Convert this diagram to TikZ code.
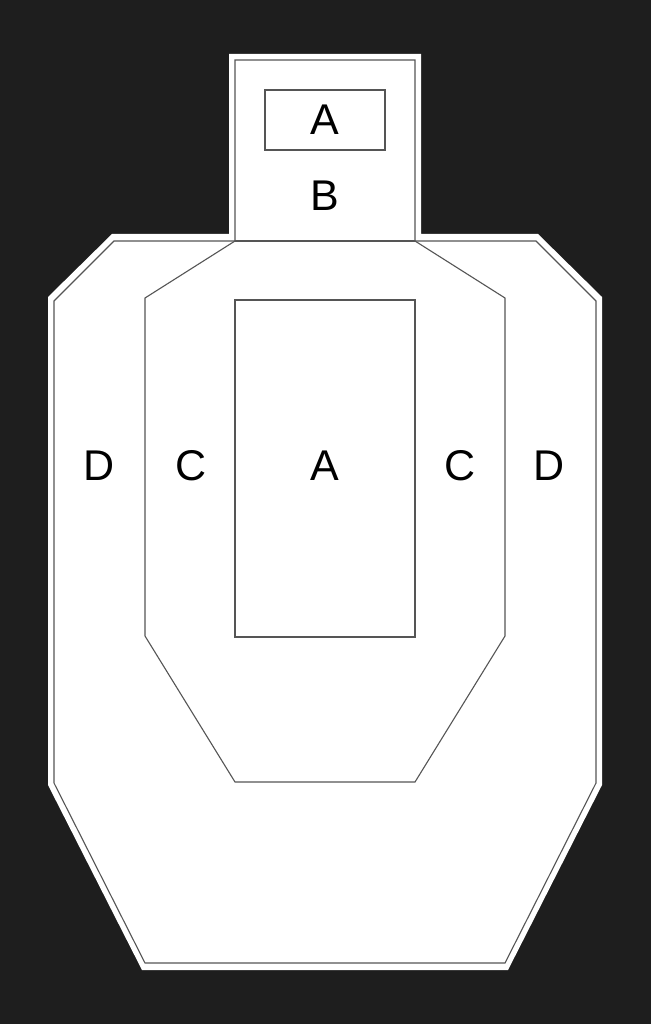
\documentclass[tikz,border=0pt]{standalone}
\usepackage{fontspec}
\setmainfont{Liberation Sans}
\definecolor{backdrop}{HTML}{1E1E1E}
\definecolor{zoneline}{HTML}{555555}

\begin{document}
\begin{tikzpicture}[x=1pt, y=-1pt,
  zone/.style={draw=zoneline, line width=1.1pt, line join=miter},
  zonelabel/.style={text=black, inner sep=0pt, font=\fontsize{43}{43}\selectfont}]

  \newcommand\HL{235}
  \newcommand\HR{415}
  \newcommand\NECK{241}

  % backdrop
  \fill[backdrop] (0,0) rectangle (651,1024);
  \useasboundingbox (0,0) rectangle (651,1024);

  % white target with its border
  \fill[white] (229,54) -- (421,54) -- (421,234) -- (538,234) -- (602,297)
  -- (602,785) -- (508,970) -- (142,970) -- (48,785) -- (48,297)
  -- (112,234) -- (229,234) -- cycle;
  \draw[zone] (\HL,60) -- (\HR,60) -- (\HR,\NECK) -- (536,\NECK) -- (596,301)
  -- (596,783) -- (505,963) -- (145,963) -- (54,783) -- (54,301)
  -- (114,\NECK) -- (\HL,\NECK) -- cycle;
  \draw[zone] (\HL,\NECK) -- (\HR,\NECK);

  % head A zone
  \draw[zone] (265,90) rectangle (385,150);

  % C zone
  \draw[zone] (\HL,\NECK) -- (145,298) -- (145,636) -- (\HL,782)
  -- (\HR,782) -- (505,636) -- (505,298) -- (\HR,\NECK);

  % body A zone
  \draw[zone] (\HL,300) rectangle (\HR,637);

  \node[zonelabel] (headA) at (325,120) {A};
  \node[zonelabel] (headB) at (325,196) {B};
  \node[zonelabel] (leftD) at (99,466) {D};
  \node[zonelabel] (leftC) at (191,466) {C};
  \node[zonelabel] (bodyA) at (325,466) {A};
  \node[zonelabel] (rightC) at (460,466) {C};
  \node[zonelabel] (rightD) at (549,466) {D};

\end{tikzpicture}
\end{document}
